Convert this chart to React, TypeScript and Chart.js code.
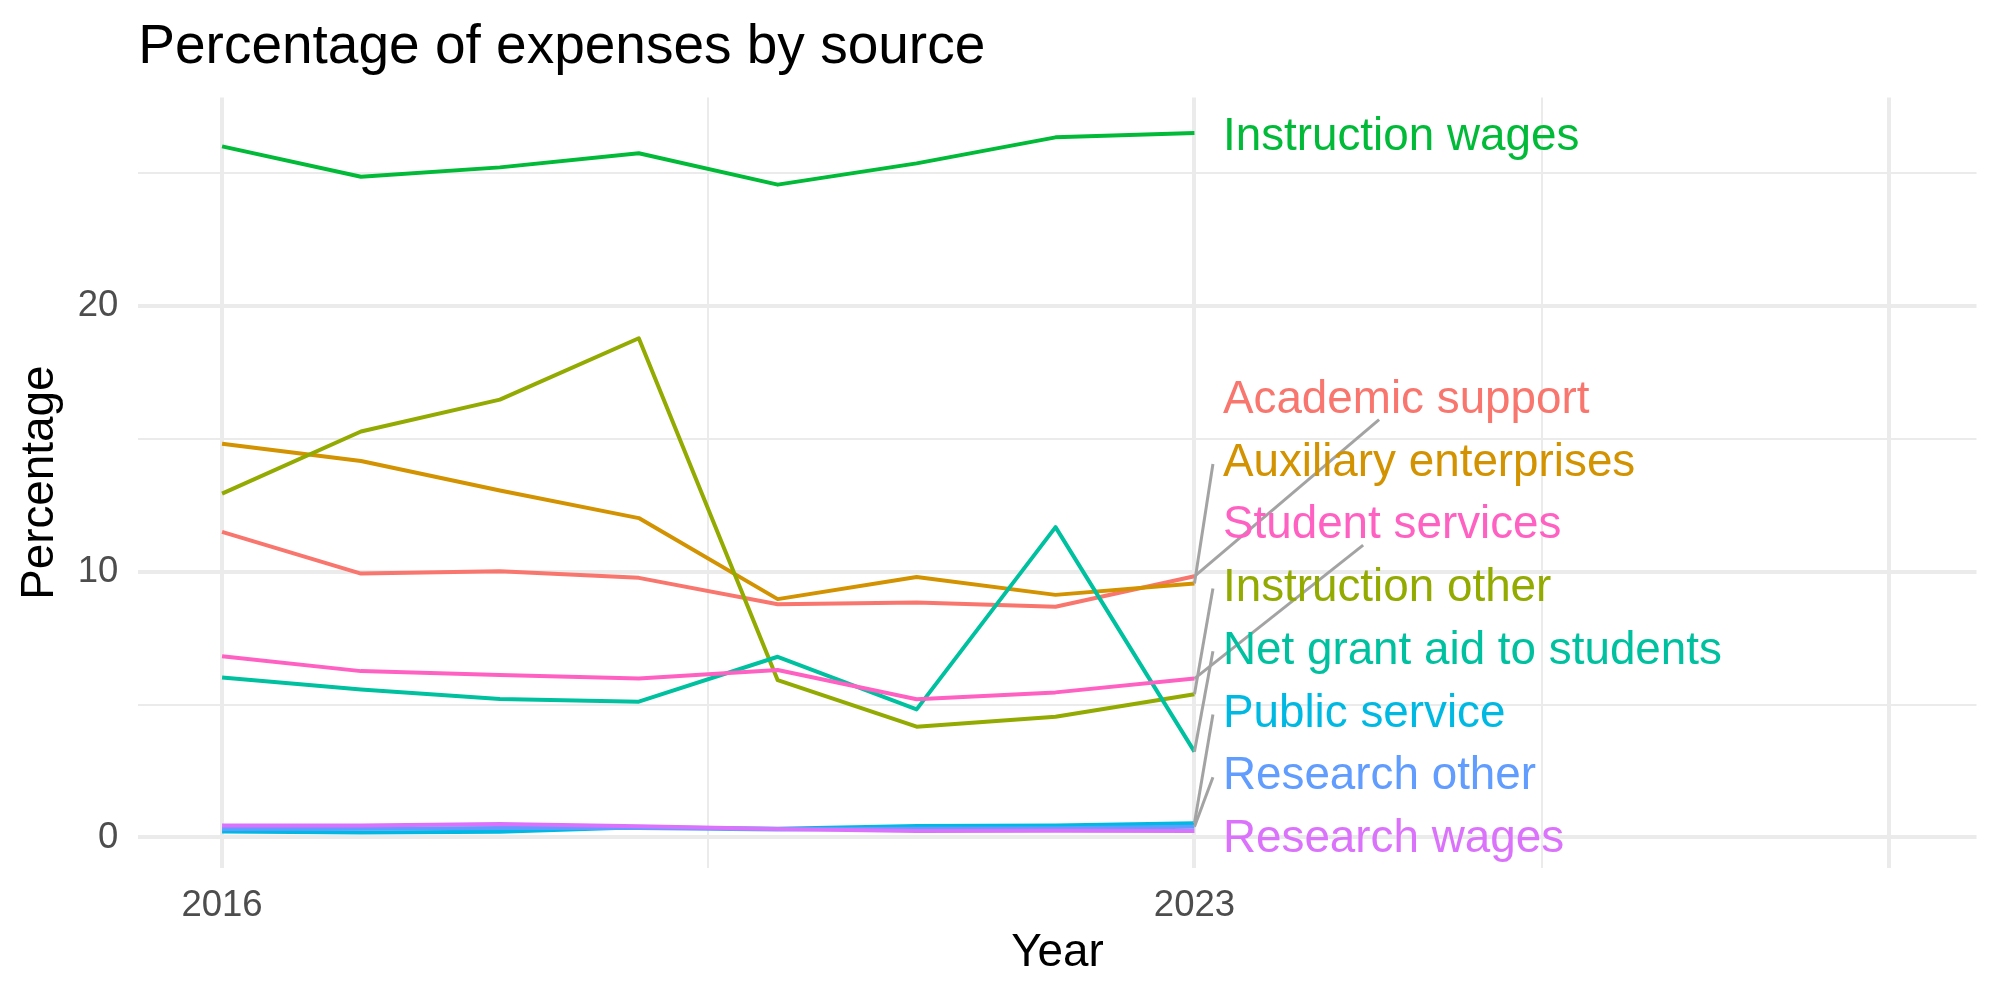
import { useEffect, useRef } from "react";
import { Chart, registerables } from "chart.js";

Chart.register(...registerables);

// ---------- data ----------
const years = [2016, 2017, 2018, 2019, 2020, 2021, 2022, 2023];

const academicSupport = [11.5, 9.93, 10.02, 9.77, 8.78, 8.84, 8.68, 9.83];
const auxiliaryEnterprises = [14.82, 14.17, 13.06, 12.02, 8.97, 9.8, 9.13, 9.56];
const instructionOther = [12.94, 15.28, 16.48, 18.79, 5.92, 4.17, 4.54, 5.39];
const instructionWages = [26.01, 24.87, 25.22, 25.75, 24.57, 25.37, 26.35, 26.51];
const netGrantAid = [6.02, 5.57, 5.21, 5.11, 6.8, 4.82, 11.68, 3.23];
const publicService = [0.22, 0.19, 0.21, 0.38, 0.33, 0.43, 0.45, 0.53];
const researchOther = [0.32, 0.33, 0.36, 0.36, 0.3, 0.33, 0.35, 0.4];
const researchWages = [0.45, 0.45, 0.51, 0.42, 0.32, 0.24, 0.25, 0.24];
const studentServices = [6.82, 6.26, 6.11, 5.98, 6.3, 5.2, 5.46, 5.98];

const seriesNames = [
  "Academic support",
  "Auxiliary enterprises",
  "Instruction other",
  "Instruction wages",
  "Net grant aid to students",
  "Public service",
  "Research other",
  "Research wages",
  "Student services",
];
const seriesValues = [
  academicSupport,
  auxiliaryEnterprises,
  instructionOther,
  instructionWages,
  netGrantAid,
  publicService,
  researchOther,
  researchWages,
  studentServices,
];

// repelled label positions (value units, at right of last year)
const labelY = [16.59, 14.21, 9.52, 26.5, 7.16, 4.78, 2.42, 0.07, 11.87];

// axis breaks and labels
const xMajorBreaks = [2016, 2023, 2028];
const xMinorBreaks = [2019.5, 2025.5];
const xTickLabels = ["2016", "2023", ""];
const yMajorBreaks = [0, 10, 20];
const yMinorBreaks = [5, 15, 25];
const yTickLabels = ["0", "10", "20"];

const titleText = "Percentage of expenses by source";
const xTitle = "Year";
const yTitle = "Percentage";

// ---------- styles ----------
const colors = [
  "#F8766D",
  "#D39200",
  "#93AA00",
  "#00BA38",
  "#00C19F",
  "#00B9E3",
  "#619CFF",
  "#DB72FB",
  "#FF61C3",
];
const labelAttach = ["center", "side", "side", "none", "side", "side", "side", "none", "center"];

const FONT = "'Liberation Sans', Arial, Helvetica, sans-serif";
const X_MIN = 2015.397;
const X_MAX = 2028.63;
const Y_MIN = -1.15;
const Y_MAX = 27.85;

const annotatePlugin = {
  id: "annotate",
  afterDatasetsDraw(chart: any) {
    const ctx = chart.ctx as CanvasRenderingContext2D;
    const xs = chart.scales.x;
    const ys = chart.scales.y;
    const last = years.length - 1;
    const px0 = xs.getPixelForValue(years[last]);
    const labelLeft = px0 + 28.5;
    ctx.save();
    ctx.font = `45.8px ${FONT}`;
    ctx.textBaseline = "alphabetic";
    ctx.textAlign = "left";
    // segments
    seriesNames.forEach((name, i) => {
      const mode = labelAttach[i];
      if (mode === "none") return;
      const py = ys.getPixelForValue(seriesValues[i][last]);
      const cy = ys.getPixelForValue(labelY[i]);
      const w = ctx.measureText(name).width;
      const boxL = labelLeft - 10;
      const boxT = cy - 23;
      const boxB = cy + 23;
      let ex: number;
      let ey: number;
      if (mode === "side") {
        ex = boxL;
        ey = cy + 4;
      } else {
        const cx = labelLeft + w / 2;
        const dx = cx - px0;
        const dy = cy - py;
        const tL = (boxL - px0) / dx;
        const tB = dy < 0 ? (boxB - py) / dy : (boxT - py) / dy;
        const t = Math.max(tL, tB);
        ex = px0 + t * dx;
        ey = py + t * dy;
      }
      ctx.beginPath();
      ctx.strokeStyle = "#A3A3A3";
      ctx.lineWidth = 3;
      ctx.lineCap = "butt";
      ctx.moveTo(px0, py);
      ctx.lineTo(ex, ey);
      ctx.stroke();
    });
    // labels (cap-middle on the label position)
    seriesNames.forEach((name, i) => {
      const cy = ys.getPixelForValue(labelY[i]);
      ctx.fillStyle = colors[i];
      ctx.fillText(name, labelLeft, cy + 16.3);
    });
    ctx.restore();
  },
  afterDraw(chart: any) {
    const ctx = chart.ctx as CanvasRenderingContext2D;
    ctx.save();
    ctx.font = `55px ${FONT}`;
    ctx.fillStyle = "#000000";
    ctx.textBaseline = "alphabetic";
    ctx.textAlign = "left";
    ctx.fillText(titleText, chart.chartArea.left, 62.7);
    ctx.restore();
  },
};

export default function App() {
  const ref = useRef<HTMLCanvasElement>(null);

  useEffect(() => {
    if (!ref.current) return;
    const n = seriesNames.length;
    const datasets = seriesNames.map((name, i) => ({
      label: name,
      data: years.map((yr, k) => ({ x: yr, y: seriesValues[i][k] })),
      borderColor: colors[i],
      backgroundColor: colors[i],
      borderWidth: 4,
      pointRadius: 0,
      pointHoverRadius: 0,
      tension: 0,
      fill: false,
      borderJoinStyle: "round" as const,
      borderCapStyle: "butt" as const,
      order: n - 1 - i,
    }));

    const xTicksAll = [...xMajorBreaks, ...xMinorBreaks].sort((a, b) => a - b);
    const yTicksAll = [...yMajorBreaks, ...yMinorBreaks].sort((a, b) => a - b);

    const chart = new Chart(ref.current, {
      type: "line",
      data: { datasets },
      options: {
        responsive: false,
        devicePixelRatio: 1,
        animation: false,
        layout: { padding: { top: 97.5, right: 23.5, bottom: 0, left: 0 } },
        plugins: {
          legend: { display: false },
          tooltip: { enabled: false },
          title: { display: false },
        },
        scales: {
          x: {
            type: "linear",
            min: X_MIN,
            max: X_MAX,
            afterBuildTicks: (scale: any) => {
              scale.ticks = xTicksAll.map((v) => ({ value: v }));
            },
            afterFit: (scale: any) => {
              scale.height = 132;
            },
            ticks: {
              autoSkip: false,
              maxRotation: 0,
              minRotation: 0,
              padding: 16,
              color: "#4D4D4D",
              font: { family: FONT, size: 36.5 },
              callback: (value: any) => {
                const idx = xMajorBreaks.indexOf(Number(value));
                return idx >= 0 ? xTickLabels[idx] : "";
              },
            },
            grid: {
              color: "#EBEBEB",
              drawTicks: false,
              lineWidth: (c: any) =>
                c.tick && xMajorBreaks.includes(c.tick.value) ? 4 : 2,
            },
            border: { display: false },
            title: {
              display: true,
              text: xTitle,
              color: "#000000",
              font: { family: FONT, size: 45.8 },
              padding: { top: 0, bottom: 19.5 },
            },
          },
          y: {
            type: "linear",
            min: Y_MIN,
            max: Y_MAX,
            afterBuildTicks: (scale: any) => {
              scale.ticks = yTicksAll.map((v) => ({ value: v }));
            },
            afterFit: (scale: any) => {
              scale.width = 138.3;
            },
            ticks: {
              autoSkip: false,
              padding: 20,
              color: "#4D4D4D",
              font: { family: FONT, size: 36.5 },
              callback: (value: any) => {
                const idx = yMajorBreaks.indexOf(Number(value));
                return idx >= 0 ? yTickLabels[idx] : "";
              },
            },
            grid: {
              color: "#EBEBEB",
              drawTicks: false,
              lineWidth: (c: any) =>
                c.tick && yMajorBreaks.includes(c.tick.value) ? 4 : 2,
            },
            border: { display: false },
            title: {
              display: true,
              text: yTitle,
              color: "#000000",
              font: { family: FONT, size: 45.8 },
              padding: { top: 12.6, bottom: 0 },
            },
          },
        },
      },
      plugins: [annotatePlugin],
    } as any);

    return () => chart.destroy();
  }, []);

  return (
    <div
      style={{
        position: "fixed",
        left: 0,
        top: 0,
        width: 2000,
        height: 1000,
        background: "#ffffff",
      }}
    >
      <canvas
        ref={ref}
        width={2000}
        height={1000}
        style={{ display: "block", width: 2000, height: 1000 }}
      />
    </div>
  );
}
